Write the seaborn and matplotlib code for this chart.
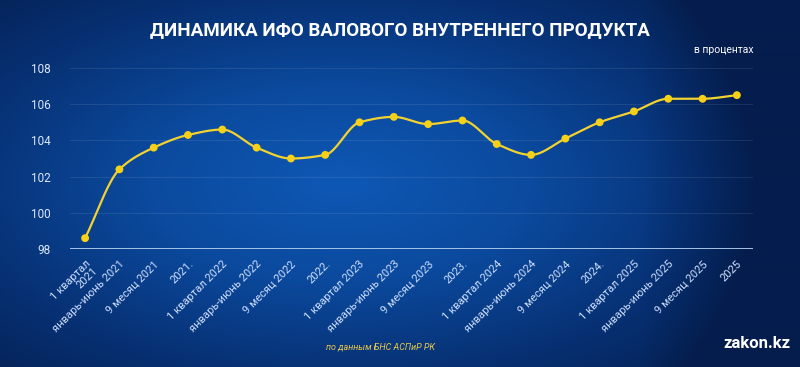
import numpy as np
import pandas as pd
import matplotlib
matplotlib.use("Agg")
import matplotlib.pyplot as plt
from matplotlib.colors import LinearSegmentedColormap
import seaborn as sns

periods = ["1 квартал\n2021", "январь-июнь 2021", "9 месяц 2021", "2021.",
           "1 квартал 2022", "январь-июнь 2022", "9 месяц 2022", "2022.",
           "1 квартал 2023", "январь-июнь 2023", "9 месяц 2023", "2023.",
           "1 квартал 2024", "январь-июнь 2024", "9 месяц 2024", "2024.",
           "1 квартал 2025", "январь-июнь 2025", "9 месяц 2025", "2025"]
values = [98.6, 102.4, 103.6, 104.3, 104.6, 103.6, 103.0, 103.2,
          105.0, 105.3, 104.9, 105.1, 103.8, 103.2, 104.1, 105.0,
          105.6, 106.3, 106.3, 106.5]
y_ticks = [98, 100, 102, 104, 106, 108]

df = pd.DataFrame({"idx": np.arange(len(values)), "value": values})


def smooth_curve(x, y, n=20):
    # monotone cubic (Fritsch-Carlson) for drawing the smooth line
    x = np.asarray(x, float)
    y = np.asarray(y, float)
    h = np.diff(x)
    d = np.diff(y) / h
    m = np.zeros_like(y)
    m[0], m[-1] = d[0], d[-1]
    for i in range(1, len(y) - 1):
        if d[i - 1] * d[i] > 0:
            m[i] = 2 / (1 / d[i - 1] + 1 / d[i])
    xs, ys = [], []
    for i in range(len(x) - 1):
        t = np.linspace(0, 1, n, endpoint=False)
        h00 = 2 * t**3 - 3 * t**2 + 1
        h10 = t**3 - 2 * t**2 + t
        h01 = -2 * t**3 + 3 * t**2
        h11 = t**3 - t**2
        xs.append(x[i] + t * h[i])
        ys.append(h00 * y[i] + h10 * h[i] * m[i] + h01 * y[i + 1] + h11 * h[i] * m[i + 1])
    xs.append([x[-1]])
    ys.append([y[-1]])
    return np.concatenate(xs), np.concatenate(ys)


sx, sy = smooth_curve(df["idx"], df["value"])
smooth_df = pd.DataFrame({"idx": sx, "value": sy})

sns.set_style("white")
plt.rcParams["font.family"] = ["Roboto", "DejaVu Sans"]

fig = plt.figure(figsize=(8, 3.67), dpi=100)

# background gradient
bg = fig.add_axes([0, 0, 1, 1], zorder=-10)
gx, gy = np.meshgrid(np.linspace(-1, 1, 400), np.linspace(-1, 1, 200))
r = np.sqrt(((gx + 0.15) / 1.1) ** 2 + (gy / 1.2) ** 2)
r = r + np.clip(gx - 0.6, 0, None) * 1.2
cmap = LinearSegmentedColormap.from_list("bg", ["#0e58b5", "#0b4a9e", "#073174", "#041d4d"])
bg.imshow(np.clip(r, 0, 1.3), cmap=cmap, aspect="auto", extent=[0, 1, 0, 1], vmin=0, vmax=1.3)
bg.axis("off")

ax = fig.add_axes([70 / 800, 1 - 249 / 367, (753 - 70) / 800, (249 - 68) / 367])
ax.patch.set_alpha(0)

sns.lineplot(data=smooth_df, x="idx", y="value", ax=ax, color="#f2d230", linewidth=1.6,
             zorder=3, estimator=None, sort=False)
sns.scatterplot(data=df, x="idx", y="value", ax=ax, color="#f7d117", s=32,
                edgecolor="none", zorder=4)

ax.set_xlim(-0.44, 19.47)
ax.set_ylim(98, 108)
ax.set_yticks(y_ticks)
ax.set_yticklabels([str(t) for t in y_ticks], color="#dce8ff", fontsize=8.5)
ax.set_xticks(df["idx"])
ax.set_xticklabels(periods, rotation=45, ha="right", rotation_mode="anchor",
                   color="#cfe0ff", fontsize=8, linespacing=1.0)
ax.tick_params(axis="both", length=0, pad=7)
ax.tick_params(axis="y", pad=14)
ax.set_xlabel("")
ax.set_ylabel("")
for t in y_ticks[1:]:
    ax.axhline(t, color="white", alpha=0.09, linewidth=0.8, zorder=1)
ax.axhline(98, color="#b5d0f0", linewidth=2, zorder=2)
for s in ax.spines.values():
    s.set_visible(False)

fig.text(0.5, 1 - 30 / 367, "ДИНАМИКА ИФО ВАЛОВОГО ВНУТРЕННЕГО ПРОДУКТА",
         ha="center", va="center", color="white", fontsize=13.5, fontweight="bold")
fig.text(753 / 800, 1 - 50 / 367, "в процентах", ha="right", va="center",
         color="white", fontsize=7.5)
fig.text(380 / 800, 1 - 347 / 367, "по данным БНС АСПиР РК", ha="center", va="center",
         color="#e8c84a", fontsize=6.5, style="italic")
fig.text(790 / 800, 1 - 343 / 367, "zakon.kz", ha="right", va="center",
         color="white", fontsize=12, fontweight="bold")

fig.savefig("out.png", dpi=100)
